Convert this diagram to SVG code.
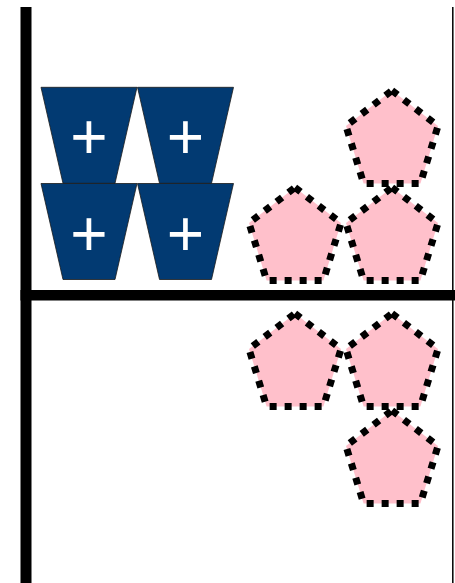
<svg xmlns="http://www.w3.org/2000/svg" xmlns:xlink="http://www.w3.org/1999/xlink" width="455" height="583" viewBox="0 0 455 583">
  <style>
    .trap { fill: #023a72; stroke: #1a1a1a; stroke-width: 0.8; }
    .plus { fill: #ffffff; font-family: "Liberation Sans", Arial, sans-serif; font-size: 64px; text-anchor: middle; }
    .pent { fill: #ffc0cb; stroke: #000000; stroke-width: 7; stroke-dasharray: 7 8; stroke-linejoin: miter; }
    .bar { stroke: #000000; fill: none; }
  </style>
  <defs>
    <path id="trapShape" d="M0,0 L96,0 L74,96 L22,96 Z"/>
    <path id="pentShape" d="M0,-46.5 L46,-11 L28.4,46.5 L-28.4,46.5 L-46,-11 Z"/>
  </defs>
  <rect width="455" height="583" fill="#ffffff"/>

  <g id="frame">
    <line class="bar" x1="26" y1="7" x2="26" y2="583" stroke-width="11"/>
    <line class="bar" x1="20.5" y1="295.3" x2="455" y2="295.3" stroke-width="10.5"/>
    <line class="bar" x1="452.8" y1="7" x2="452.8" y2="583" stroke-width="1.5"/>
  </g>

  <g id="trap1">
    <use xlink:href="#trapShape" class="trap" transform="translate(41,87.3)"/>
    <text class="plus" x="89" y="159">+</text>
  </g>
  <g id="trap2">
    <use xlink:href="#trapShape" class="trap" transform="translate(137.5,87.3)"/>
    <text class="plus" x="185.5" y="159">+</text>
  </g>
  <g id="trap3">
    <use xlink:href="#trapShape" class="trap" transform="translate(41,183.5)"/>
    <text class="plus" x="89" y="255.5">+</text>
  </g>
  <g id="trap4">
    <use xlink:href="#trapShape" class="trap" transform="translate(137.5,183.5)"/>
    <text class="plus" x="185.5" y="255.5">+</text>
  </g>

  <g id="pent1"><use xlink:href="#pentShape" class="pent" transform="translate(392,137)"/></g>
  <g id="pent2"><use xlink:href="#pentShape" class="pent" transform="translate(295,234)"/></g>
  <g id="pent3"><use xlink:href="#pentShape" class="pent" transform="translate(392,234)"/></g>
  <g id="pent4"><use xlink:href="#pentShape" class="pent" transform="translate(295,360)"/></g>
  <g id="pent5"><use xlink:href="#pentShape" class="pent" transform="translate(392,360)"/></g>
  <g id="pent6"><use xlink:href="#pentShape" class="pent" transform="translate(392,457)"/></g>

  <g id="connectors"/>
</svg>
